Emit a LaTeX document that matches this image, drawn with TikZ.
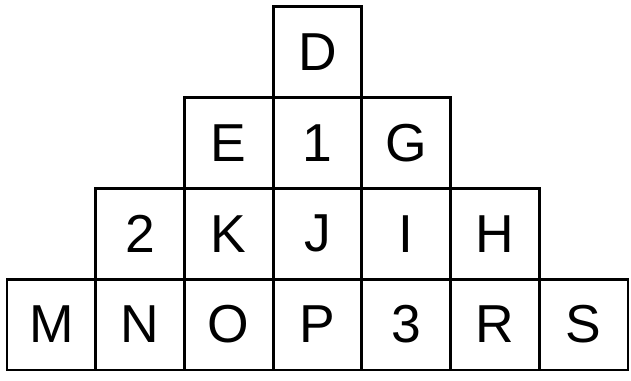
\documentclass[tikz,border=0pt]{standalone}
\usepackage{fontspec}
\setmainfont{Liberation Sans}
\usetikzlibrary{positioning}

\begin{document}
\begin{tikzpicture}[
    every node/.style={font=\fontsize{38}{40}\selectfont},
    cell/.style={draw, line width=2pt, minimum width=2.2175cm, minimum height=2.27cm, inner sep=0pt},
  ]
  \useasboundingbox (0,0) rectangle (15.775,9.5);

  % top row
  \node[cell] (d) at (7.936, 8.195) {D};

  % second row
  \node[cell] (e) at (5.719, 5.925) {E};
  \node[cell] (one) at (7.936, 5.925) {1};
  \node[cell] (g) at (10.154, 5.925) {G};

  % third row
  \node[cell] (two) at (3.501, 3.655) {2};
  \node[cell] (k) at (5.719, 3.655) {K};
  \node[cell] (j) at (7.936, 3.655) {J};
  \node[cell] (i) at (10.154, 3.655) {I};
  \node[cell] (h) at (12.371, 3.655) {H};

  % bottom row
  \node[cell] (m) at (1.284, 1.385) {M};
  \node[cell] (n) at (3.501, 1.385) {N};
  \node[cell] (o) at (5.719, 1.385) {O};
  \node[cell] (p) at (7.936, 1.385) {P};
  \node[cell] (three) at (10.154, 1.385) {3};
  \node[cell] (r) at (12.371, 1.385) {R};
  \node[cell] (s) at (14.589, 1.385) {S};
\end{tikzpicture}
\end{document}
